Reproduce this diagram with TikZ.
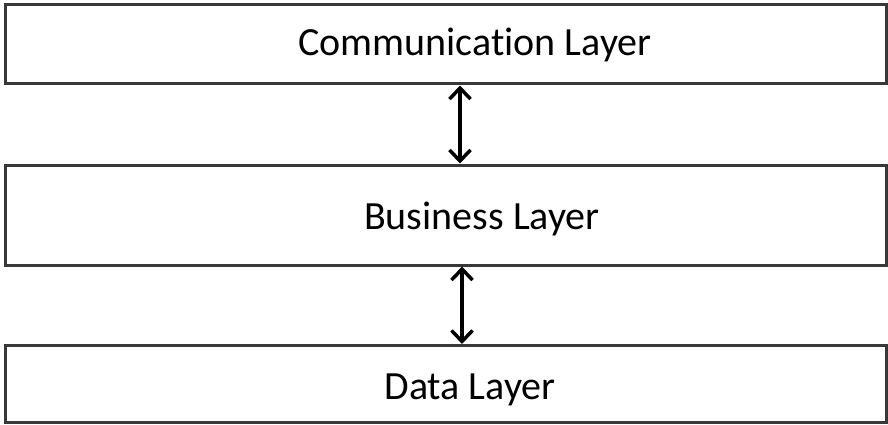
\documentclass[tikz,border=0pt]{standalone}
\usepackage{fontspec}
\setmainfont{Carlito}[Ligatures=NoCommon]
\usetikzlibrary{arrows.meta}
\begin{document}
\begin{tikzpicture}[x=1pt,y=-1pt,
  layerbox/.style={draw=black!78, line width=3pt, rectangle, inner sep=0pt, minimum width=881pt},
  layertext/.style={anchor=base, inner sep=0pt, font=\fontsize{40}{48}\selectfont, text=black},
  barb/.tip={Straight Barb[length=11pt,width=21pt,line width=3.5pt]},
  link/.style={draw=black, line width=3.5pt, barb-barb}]
\useasboundingbox (0,0) rectangle (888,425);
\node[layerbox, minimum height=79.5pt] (comm) at (445.5,44.25) {};
\node[layerbox, minimum height=100pt] (bus) at (445.5,215) {};
\node[layerbox, minimum height=77pt] (data) at (445.5,384) {};
\node[layertext] (commt) at (475,56) {Communication Layer};
\node[layertext] (bust) at (482,229) {Business Layer};
\node[layertext] (datat) at (470,399) {Data Layer};
\coordinate (a1) at (460,0);
\coordinate (a2) at (462,0);
\draw[link] (comm.south -| a1) -- (bus.north -| a1);
\draw[link] (bus.south -| a2) -- (data.north -| a2);
\end{tikzpicture}
\end{document}
